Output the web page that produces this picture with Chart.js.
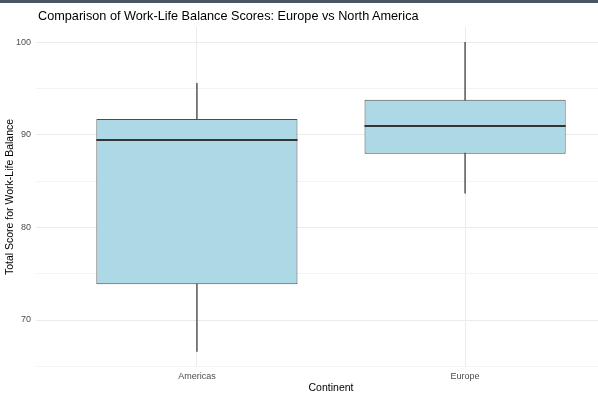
<!DOCTYPE html>
<html>
<head>
<meta charset="utf-8">
<script src="https://cdn.jsdelivr.net/npm/chart.js@4/dist/chart.umd.min.js"></script>
<style>
  html, body { margin: 0; padding: 0; background: #ffffff; overflow: hidden; }
  #wrap { position: relative; width: 598px; height: 398px; overflow: hidden; background: #fff; }
  #topbar { position: absolute; left: 0; top: 0; width: 598px; height: 3px; background: #485563; }
  #title { position: absolute; left: 38px; top: 9px; font-family: "Liberation Sans", Arial, sans-serif; font-size: 12.7px; color: #000; white-space: nowrap; }
  canvas { position: absolute; left: 0; top: 0; }
</style>
</head>
<body>
<div id="wrap">
  <canvas id="c" width="640" height="398"></canvas>
  <div id="topbar"></div>
  <div id="title">Comparison of Work-Life Balance Scores: Europe vs North America</div>
</div>
<script>
// ---- data ----
const categories = ['Americas', 'Europe'];
const whiskerLow = [66.6, 83.7];
const q1 = [73.87, 87.97];
const median = [89.48, 91.0];
const q3 = [91.72, 93.8];
const whiskerHigh = [95.57, 100];
const yTicks = [65, 70, 75, 80, 85, 90, 95, 100];

const FONT = '"Liberation Sans", Arial, sans-serif';
const positions = categories.map((c, i) => i + 1);

const boxData = positions.map((x, i) => ({ x: x, y: [q1[i], q3[i]] }));
const whiskerData = positions.map((x, i) => ({ x: x, y: [whiskerLow[i], whiskerHigh[i]] }));

const medianPlugin = {
  id: 'medianLines',
  afterDatasetsDraw(chart) {
    const meta = chart.getDatasetMeta(0);
    const ys = chart.scales.y;
    const ctx = chart.ctx;
    ctx.save();
    ctx.strokeStyle = '#333333';
    ctx.lineWidth = 2;
    meta.data.forEach((el, i) => {
      const y = Math.round(ys.getPixelForValue(median[i]));
      ctx.beginPath();
      ctx.moveTo(el.x - el.width / 2, y);
      ctx.lineTo(el.x + el.width / 2, y);
      ctx.stroke();
    });
    ctx.restore();
  }
};

new Chart(document.getElementById('c'), {
  type: 'bar',
  data: {
    datasets: [
      {
        label: 'box',
        data: boxData,
        backgroundColor: '#add8e6',
        borderColor: '#4d4d4d',
        borderWidth: 1,
        borderSkipped: false,
        grouped: false,
        barPercentage: 0.75,
        categoryPercentage: 1,
        order: 0
      },
      {
        label: 'whisker',
        data: whiskerData,
        backgroundColor: '#666666',
        borderWidth: 0,
        grouped: false,
        barThickness: 1,
        order: 1
      }
    ]
  },
  options: {
    responsive: false,
    animation: false,
    devicePixelRatio: 1,
    layout: { padding: { top: 27, right: 14, bottom: 0, left: 0 } },
    plugins: {
      legend: { display: false },
      tooltip: { enabled: false },
      title: { display: false }
    },
    scales: {
      x: {
        type: 'linear',
        min: 0.4,
        max: 2.6,
        offset: false,
        afterBuildTicks(axis) { axis.ticks = positions.map(v => ({ value: v })); },
        afterFit(axis) { axis.height = 31; },
        ticks: {
          padding: 4,
          color: '#4d4d4d',
          font: { family: FONT, size: 9 },
          callback: (v) => categories[Math.round(v) - 1] || ''
        },
        grid: { color: '#ebebeb', lineWidth: 1, drawTicks: false, offset: false },
        border: { display: false },
        title: {
          display: true,
          text: 'Continent',
          color: '#000000',
          font: { family: FONT, size: 10.5 },
          padding: { top: 0, bottom: 4 }
        }
      },
      y: {
        type: 'linear',
        min: 64.92,
        max: 101.67,
        afterBuildTicks(axis) { axis.ticks = yTicks.map(v => ({ value: v })); },
        afterFit(axis) { axis.width = 36; },
        ticks: {
          padding: 5,
          color: '#4d4d4d',
          font: { family: FONT, size: 9 },
          callback: (v) => (v % 10 === 0 ? String(v) : '')
        },
        grid: {
          drawTicks: false,
          color: (ctx) => (ctx.tick && ctx.tick.value % 10 === 0 ? '#ebebeb' : '#f3f3f3'),
          lineWidth: 1
        },
        border: { display: false },
        title: {
          display: true,
          text: 'Total Score for Work-Life Balance',
          color: '#000000',
          font: { family: FONT, size: 10.5 },
          padding: { top: 4, bottom: 0 }
        }
      }
    }
  },
  plugins: [medianPlugin]
});
</script>
</body>
</html>
